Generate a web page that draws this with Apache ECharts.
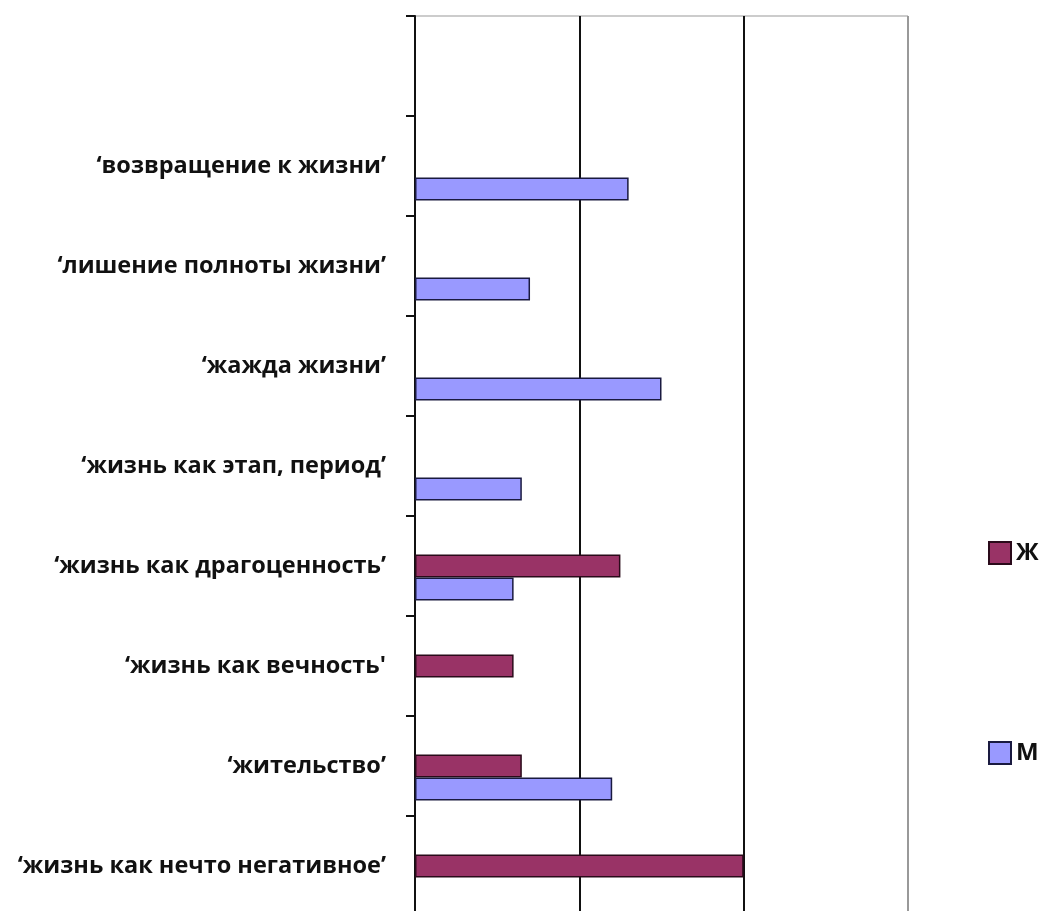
<!DOCTYPE html>
<html>
<head>
<meta charset="utf-8">
<script src="https://cdn.jsdelivr.net/npm/echarts@6/dist/echarts.min.js"></script>
<style>html,body{margin:0;padding:0;background:#fff;}#c{width:1052px;height:911px;}</style>
</head>
<body>
<div id="c"></div>
<script>
const categories = [
  '‘жизнь как нечто негативное’',
  '‘жительство’',
  '‘жизнь как вечность\'',
  '‘жизнь как драгоценность’',
  '‘жизнь как этап, период’',
  '‘жажда жизни’',
  '‘лишение полноты жизни’',
  '‘возвращение к жизни’',
  ''
];
const seriesNames = ['Ж', 'М'];
const valuesZh = [2.0, 0.65, 0.6, 1.25, null, null, null, null, null];
const valuesM  = [null, 1.2, null, 0.6, 0.65, 1.5, 0.7, 1.3, null];
const emptySlot = [null, null, null, null, null, null, null, null, null];

const chart = echarts.init(document.getElementById('c'));
chart.setOption({
  animation: false,
  backgroundColor: '#fff',
  grid: { left: 415, top: 16, right: 144, bottom: -5, outerBoundsMode: 'none', containLabel: false,
          show: true, borderColor: '#999', borderWidth: 1, backgroundColor: 'transparent' },
  legend: {
    data: seriesNames,
    orient: 'vertical',
    left: 983,
    top: 536,
    itemWidth: 22,
    itemHeight: 22,
    itemGap: 176,
    icon: 'rect',
    textStyle: { fontFamily: 'Open Sans', fontWeight: 'bold', fontSize: 24, color: '#111' }
  },
  xAxis: {
    type: 'value', min: 0, max: 3, interval: 1,
    axisLabel: { show: false },
    axisTick: { show: false },
    axisLine: { show: false },
    splitLine: { show: true, lineStyle: { color: ['#111', '#111', '#111', '#999'], width: 2 } }
  },
  yAxis: {
    type: 'category',
    data: categories,
    axisLine: { show: true, lineStyle: { color: '#111', width: 2 } },
    axisTick: { show: true, length: 9, inside: false, lineStyle: { color: '#111', width: 2 } },
    axisLabel: { margin: 29, fontFamily: 'Open Sans', fontWeight: 'bold', fontSize: 23.5, color: '#111' },
    splitLine: { show: false }
  },
  series: [
    { name: 'empty', type: 'bar', data: emptySlot, barWidth: 23, barGap: '0%' },
    { name: seriesNames[0], type: 'bar', data: valuesZh, barWidth: 23, barGap: '0%',
      itemStyle: { color: '#993366', borderColor: '#2a0a1a', borderWidth: 1.5 } },
    { name: seriesNames[1], type: 'bar', data: valuesM, barWidth: 23, barGap: '0%',
      itemStyle: { color: '#9999FF', borderColor: '#1a1a40', borderWidth: 1.5 } }
  ]
});
</script>
</body>
</html>
